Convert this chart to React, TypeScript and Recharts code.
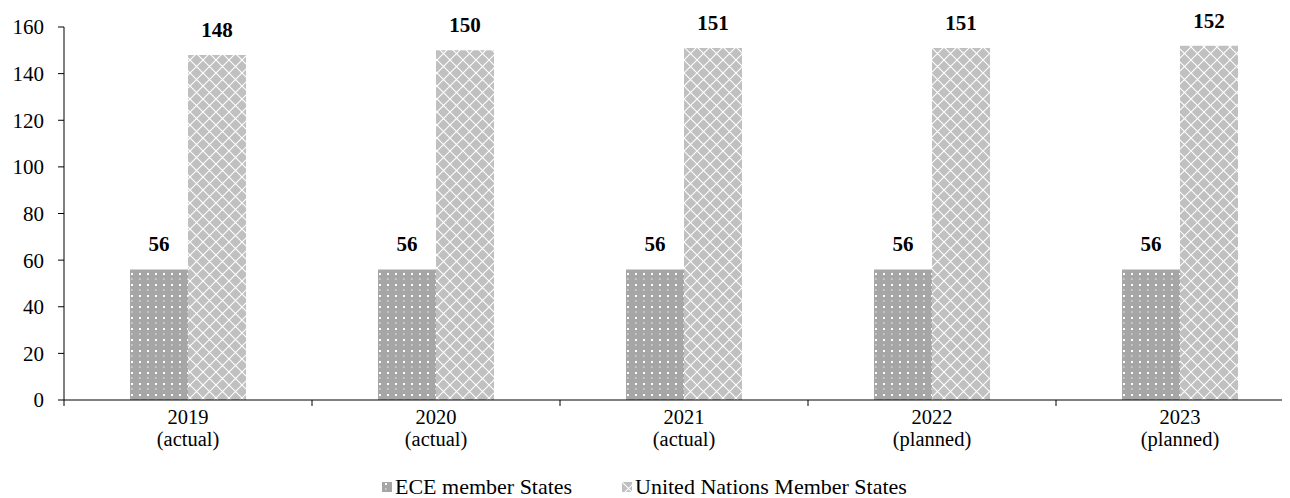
import React from "react";
import { BarChart, Bar, XAxis, YAxis, Legend, LabelList } from "recharts";

const years = ["2019", "2020", "2021", "2022", "2023"];
const statuses = ["(actual)", "(actual)", "(actual)", "(planned)", "(planned)"];
const eceStates = [56, 56, 56, 56, 56];
const unStates = [148, 150, 151, 151, 152];
const yTicks = [0, 20, 40, 60, 80, 100, 120, 140, 160];
const seriesNames = ["ECE member States", "United Nations Member States"];

const data = years.map((y, i) => ({
  year: y,
  status: statuses[i],
  ece: eceStates[i],
  un: unStates[i],
}));

const FONT = "'Liberation Serif', 'Times New Roman', serif";

const XTick = (props: any) => {
  const { x, y, payload } = props;
  const off = payload && typeof payload.offset === "number" ? payload.offset : 124;
  const idx = years.indexOf(payload.value);
  return (
    <g>
      <line x1={x - off} y1={y} x2={x - off} y2={y + 6} stroke="#000" strokeWidth={1} />
      {idx === years.length - 1 && (
        <line x1={x + off} y1={y} x2={x + off} y2={y + 6} stroke="#000" strokeWidth={1} />
      )}
      <text x={x} y={y + 24} textAnchor="middle" fontFamily={FONT} fontSize={20.5} fill="#000">
        {payload.value}
      </text>
      <text x={x} y={y + 46} textAnchor="middle" fontFamily={FONT} fontSize={20.5} fill="#000">
        {statuses[idx]}
      </text>
    </g>
  );
};

const LegendContent = () => (
  <div
    style={{
      position: "relative",
      height: 22,
      fontFamily: FONT,
      fontSize: 22,
      lineHeight: "22px",
      color: "#000",
    }}
  >
    <div style={{ position: "absolute", left: 374, top: 0, display: "flex", alignItems: "center", whiteSpace: "nowrap" }}>
      <svg width={10} height={10} style={{ marginRight: 3 }}>
        <rect width={10} height={10} fill="url(#ecePat)" />
      </svg>
      <span>{seriesNames[0]}</span>
    </div>
    <div style={{ position: "absolute", left: 614, top: 0, display: "flex", alignItems: "center", whiteSpace: "nowrap" }}>
      <svg width={10} height={10} style={{ marginRight: 3 }}>
        <rect width={10} height={10} fill="url(#unPat)" />
      </svg>
      <span>{seriesNames[1]}</span>
    </div>
  </div>
);

export default function App() {
  return (
    <div style={{ width: 1282, height: 490, overflow: "hidden" }}>
      <BarChart
        width={1300}
        height={490}
        data={data}
        margin={{ top: 19, right: 4, bottom: 0, left: 0 }}
        barGap={0}
        barSize={58}
      >
        <defs>
          <pattern id="ecePat" width={8} height={11} patternUnits="userSpaceOnUse">
            <rect width={8} height={11} fill="#a6a6a6" />
            <rect x={3} y={1} width={2} height={2} fill="#ffffff" />
            <rect x={3} y={6.5} width={1.5} height={1} fill="#f2f2f2" />
          </pattern>
          <pattern id="unPat" width={13} height={13} patternUnits="userSpaceOnUse">
            <rect width={13} height={13} fill="#c0c0c0" />
            <path d="M0 0 L13 13 M13 0 L0 13" stroke="#ffffff" strokeWidth={1.1} />
            <path d="M-1 12 L1 14 M12 -1 L14 1" stroke="#ffffff" strokeWidth={1.1} />
          </pattern>
        </defs>
        <XAxis
          dataKey="year"
          axisLine={{ stroke: "#000", strokeWidth: 1 }}
          tickLine={false}
          tickSize={0}
          tickMargin={0}
          height={76}
          interval={0}
          tick={<XTick />}
        />
        <YAxis
          domain={[0, 160]}
          ticks={yTicks}
          width={56}
          axisLine={{ stroke: "#000", strokeWidth: 1 }}
          tickLine={{ stroke: "#000", strokeWidth: 1 }}
          tickSize={6}
          tickMargin={14}
          interval={0}
          tick={{ fontFamily: FONT, fontSize: 21, fill: "#000" }}
        />
        <Legend verticalAlign="bottom" height={22} content={<LegendContent />} />
        <Bar dataKey="ece" name={seriesNames[0]} fill="url(#ecePat)" isAnimationActive={false}>
          <LabelList
            dataKey="ece"
            position="top"
            offset={18}
            style={{ fontFamily: FONT, fontSize: 21, fontWeight: "bold", fill: "#000" }}
          />
        </Bar>
        <Bar dataKey="un" name={seriesNames[1]} fill="url(#unPat)" isAnimationActive={false}>
          <LabelList
            dataKey="un"
            position="top"
            offset={18}
            style={{ fontFamily: FONT, fontSize: 21, fontWeight: "bold", fill: "#000" }}
          />
        </Bar>
      </BarChart>
    </div>
  );
}
